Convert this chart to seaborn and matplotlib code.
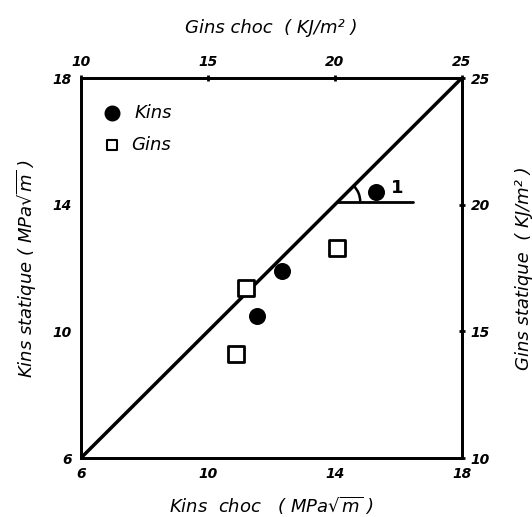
import matplotlib
matplotlib.use('Agg')
import matplotlib.pyplot as plt
import matplotlib.patches as mpatches
import pandas as pd
import seaborn as sns

# Data
kins_choc = [11.55, 12.35, 15.3]
kins_stat = [10.5, 11.9, 14.4]
gins_choc = [16.1, 16.5, 20.1]
gins_stat = [14.1, 16.7, 18.3]

k_ticks = [6, 8, 10, 12, 14, 16, 18]
k_labels = ['6', '', '10', '', '14', '', '18']
g_ticks = [10, 15, 20, 25]
g_labels = ['10', '15', '20', '25']

df_k = pd.DataFrame({'choc': kins_choc, 'statique': kins_stat})
df_g = pd.DataFrame({'choc': gins_choc, 'statique': gins_stat})

sns.set_style('white')
plt.rcParams['font.family'] = ['DejaVu Sans']
plt.rcParams['mathtext.fontset'] = 'dejavusans'
for k in ('text.color', 'axes.labelcolor', 'xtick.color', 'ytick.color'):
    plt.rcParams[k] = 'black'

fig = plt.figure(figsize=(5.32, 5.17), dpi=100)
pos = [0.152, 0.114, 0.716, 0.735]
ax = fig.add_axes(pos)
axg = fig.add_axes(pos, facecolor='none')

# 1:1 line
sns.lineplot(x=[6, 18], y=[6, 18], ax=ax, color='black', linewidth=2.5)

sns.scatterplot(data=df_k, x='choc', y='statique', ax=ax, marker='o', s=150,
                color='black', edgecolor='black', linewidth=0, zorder=5)
sns.scatterplot(data=df_g, x='choc', y='statique', ax=axg, marker='s', s=120,
                facecolor='white', edgecolor='black', linewidth=2, zorder=5)

ax.set_xlim(6, 18)
ax.set_ylim(6, 18)
axg.set_xlim(10, 25)
axg.set_ylim(10, 25)

ax.set_xticks(k_ticks)
ax.set_xticklabels(k_labels)
ax.set_yticks(k_ticks)
ax.set_yticklabels(k_labels)
axg.set_xticks(g_ticks)
axg.set_xticklabels(g_labels)
axg.set_yticks(g_ticks)
axg.set_yticklabels(g_labels)
axg.xaxis.tick_top()
axg.yaxis.tick_right()
axg.xaxis.set_label_position('top')
axg.yaxis.set_label_position('right')

for a in (ax, axg):
    a.tick_params(direction='inout', length=5, width=2, labelsize=10, pad=4)
    for lab in a.get_xticklabels() + a.get_yticklabels():
        lab.set_fontstyle('italic')
        lab.set_fontweight('bold')
    for sp in a.spines.values():
        sp.set_linewidth(2)
        sp.set_color('black')
    a.grid(False)

ax.set_xlabel(r'Kins  choc   ( MPa$\sqrt{\mathit{m}}$ )', fontsize=13, style='italic', labelpad=10)
ax.set_ylabel(r'Kins statique ( MPa$\sqrt{\mathit{m}}$ )', fontsize=13, style='italic', labelpad=10)
axg.set_xlabel('Gins choc  ( KJ/m² )', fontsize=13, style='italic', labelpad=16)
axg.set_ylabel('Gins statique  ( KJ/m² )', fontsize=13, style='italic', labelpad=18)

# slope annotation
ax.plot([14.1, 16.45], [14.1, 14.1], color='black', linewidth=2)
ax.add_patch(mpatches.Arc((14.1, 14.1), 1.4, 1.4, theta1=0, theta2=45,
                          color='black', linewidth=1.8))
ax.text(15.95, 14.25, '1', fontsize=13, fontweight='bold', ha='center', va='bottom')

# legend
ax.scatter([6.98], [16.9], s=110, color='black', marker='o')
ax.text(7.7, 16.9, 'Kins', fontsize=13, style='italic', va='center')
ax.scatter([6.98], [15.9], s=55, facecolor='white', edgecolor='black', linewidth=1.5, marker='s')
ax.text(7.6, 15.9, 'Gins', fontsize=13, style='italic', va='center')

fig.savefig('out.png', dpi=100)
